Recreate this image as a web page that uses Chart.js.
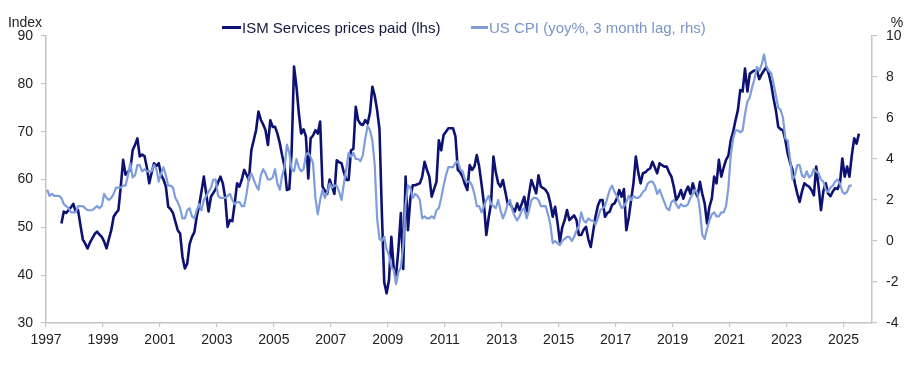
<!DOCTYPE html>
<html>
<head>
<meta charset="utf-8">
<script src="https://cdn.jsdelivr.net/npm/chart.js@4.4.1/dist/chart.umd.min.js"></script>
<style>
  html, body { margin: 0; padding: 0; background: #fff; }
  #wrap { position: relative; width: 918px; height: 369px; }
  #legend { position: absolute; left: 0; top: 0; width: 918px; height: 36px;
            font-family: "Liberation Sans", Arial, sans-serif; font-size: 15px; }
  .item { position: absolute; top: 19px; height: 17px; line-height: 17px;
          display: flex; align-items: center; white-space: nowrap; }
  .swatch { display: inline-block; height: 3px; margin-right: 1px; }
</style>
</head>
<body>
<div id="wrap">
  <canvas id="c" width="918" height="369"></canvas>
  <div id="legend"></div>
</div>
<script>
// ---------------- DATA ----------------
const seriesNames = ["ISM Services prices paid (lhs)", "US CPI (yoy%, 3 month lag, rhs)"];

// ISM Services prices paid index, monthly, starting Jul 1997
const ismStart = [1997, 7];
const ismPricesPaid = [
  50.8, 53.3, 53.0, 53.6, 54.2, 54.9,
  53.3, 53.6, 50.5, 47.5, 46.6, 45.6, 46.8, 47.7, 48.6, 49.1, 48.5, 48.0,
  47.0, 45.6, 47.6, 49.4, 52.2, 53.0, 53.6, 58.5, 64.1, 61.0, 61.6, 62.0,
  66.1, 67.2, 68.6, 64.8, 65.2, 64.9, 62.5, 59.2, 61.4, 63.4, 62.8, 63.4,
  61.0, 60.0, 58.5, 54.3, 53.8, 53.0, 51.2, 49.4, 48.7, 43.8, 41.4, 42.4,
  46.5, 48.0, 49.0, 52.2, 54.5, 57.5, 60.6, 57.1, 53.3, 56.4, 57.2, 58.0,
  59.4, 60.6, 59.2, 56.2, 50.1, 51.5, 51.3, 55.0, 59.2, 58.5, 60.0, 62.0,
  61.0, 59.9, 66.1, 68.2, 70.3, 74.2, 72.5, 71.5, 70.3, 67.2, 72.4, 71.0,
  71.0, 69.6, 67.6, 65.0, 62.7, 57.8, 58.0, 66.0, 83.6, 79.5, 74.0, 69.6,
  70.5, 69.0, 60.2, 68.6, 69.2, 70.3, 69.6, 72.1, 58.5, 57.6, 57.0, 60.0,
  58.5, 57.0, 64.0, 63.6, 63.4, 61.5, 59.9, 59.9, 66.1, 66.4, 75.2, 72.4,
  71.6, 71.4, 72.4, 71.7, 74.0, 79.4, 77.5, 74.5, 70.5, 53.0, 38.5, 36.2,
  39.0, 48.0, 41.4, 40.0, 45.6, 53.0, 41.3, 60.6, 49.4, 56.0, 58.8, 58.8,
  59.0, 59.2, 60.6, 63.7, 62.0, 60.6, 56.4, 58.0, 59.5, 68.2, 66.1, 69.3,
  70.0, 70.7, 70.7, 70.7, 69.0, 62.0, 61.5, 60.6, 59.0, 57.8, 63.0, 62.0,
  62.7, 65.1, 62.7, 59.0, 55.0, 48.4, 52.0, 55.0, 64.8, 61.5, 59.2, 58.5,
  59.9, 57.5, 55.0, 55.0, 54.0, 53.3, 55.0, 53.6, 55.0, 56.4, 53.3, 57.0,
  59.9, 58.5, 57.1, 60.9, 58.5, 58.2, 57.8, 57.0, 55.0, 52.2, 54.3, 51.0,
  47.0, 50.0, 51.5, 53.6, 51.5, 52.0, 52.5, 51.5, 48.4, 48.4, 49.5, 50.1,
  47.5, 45.9, 49.0, 52.2, 54.5, 55.7, 55.7, 52.2, 53.0, 53.3, 54.7, 55.0,
  56.0, 57.8, 56.4, 58.0, 49.4, 52.0, 55.7, 59.2, 64.8, 61.5, 59.2, 61.3,
  61.5, 62.0, 62.3, 63.7, 62.5, 61.3, 63.4, 63.0, 62.7, 62.7, 61.5, 60.6,
  58.5, 55.7, 56.5, 57.8, 56.0, 57.5, 58.5, 57.0, 59.2, 57.5, 56.4, 59.5,
  57.0, 55.0, 50.8, 54.3, 56.0, 60.6, 59.2, 64.1, 60.6, 62.5, 64.1, 65.0,
  68.2, 70.0, 72.4, 74.5, 78.7, 78.4, 83.2, 78.4, 82.1, 82.5, 82.8, 82.8,
  81.0, 82.0, 82.8, 83.5, 82.1, 80.0, 77.0, 74.5, 71.0, 70.5, 70.3, 68.2,
  65.4, 63.5, 62.0, 59.2, 57.1, 55.3, 57.5, 59.2, 58.8, 58.5, 57.8, 56.7,
  62.7, 58.5, 53.6, 57.5, 59.2, 57.1, 56.5, 57.5, 58.2, 58.0, 59.2, 64.4,
  60.6, 62.7, 60.6, 65.1, 68.6, 67.5, 69.6
];

// US CPI yoy %, monthly, starting Apr 1997 (plotted 3 months earlier)
const cpiStart = [1997, 4];
const cpiLagMonths = 3;
const cpiYoy = [
  2.5, 2.2, 2.3, 2.2, 2.2, 2.2, 2.1, 1.8, 1.7,
  1.6, 1.4, 1.4, 1.4, 1.7, 1.7, 1.7, 1.6, 1.5, 1.5, 1.5, 1.6,
  1.7, 1.6, 1.7, 2.3, 2.1, 2.0, 2.1, 2.3, 2.6, 2.6, 2.6, 2.7,
  2.7, 3.2, 3.8, 3.1, 3.2, 3.7, 3.7, 3.4, 3.5, 3.4, 3.4, 3.4,
  3.7, 3.5, 2.9, 3.3, 3.6, 3.2, 2.7, 2.7, 2.6, 2.1, 1.9, 1.6,
  1.1, 1.1, 1.5, 1.6, 1.2, 1.1, 1.5, 1.8, 1.5, 2.0, 2.2, 2.4,
  2.6, 3.0, 3.0, 2.2, 2.1, 2.1, 2.1, 2.2, 2.3, 2.0, 1.8, 1.9,
  1.9, 1.7, 1.7, 2.3, 3.1, 3.3, 3.0, 2.7, 2.5, 3.2, 3.5, 3.3,
  3.0, 3.0, 3.1, 3.5, 2.8, 2.5, 3.2, 3.6, 4.7, 4.3, 3.5, 3.4,
  4.0, 3.6, 3.4, 3.5, 4.2, 4.3, 4.1, 3.8, 2.1, 1.3, 2.0, 2.5,
  2.1, 2.4, 2.8, 2.6, 2.7, 2.7, 2.4, 2.0, 2.8, 3.5, 4.3, 4.1,
  4.3, 4.0, 4.0, 3.9, 4.2, 5.0, 5.6, 5.4, 4.9, 3.7, 1.1, 0.1,
  0.0, 0.2, -0.4, -0.7, -1.3, -1.4, -2.1, -1.5, -1.3, -0.2, 1.8, 2.7,
  2.6, 2.1, 2.3, 2.2, 2.0, 1.1, 1.2, 1.1, 1.1, 1.2, 1.1, 1.5,
  1.6, 2.1, 2.7, 3.2, 3.6, 3.6, 3.6, 3.8, 3.9, 3.5, 3.4, 3.0,
  2.9, 2.9, 2.7, 2.3, 1.7, 1.7, 1.4, 1.7, 2.0, 2.2, 1.8, 1.7,
  1.6, 2.0, 1.5, 1.1, 1.4, 1.8, 2.0, 1.5, 1.2, 1.0, 1.2, 1.5,
  1.6, 1.1, 1.5, 2.0, 2.1, 2.1, 2.0, 1.7, 1.7, 1.7, 1.3, 0.8,
  -0.1, 0.0, -0.1, -0.2, 0.0, 0.1, 0.2, 0.2, 0.0, 0.2, 0.5, 0.7,
  1.4, 1.0, 0.9, 1.1, 1.0, 1.0, 0.8, 1.1, 1.5, 1.6, 1.7, 2.1,
  2.5, 2.7, 2.4, 2.2, 1.9, 1.6, 1.7, 1.9, 2.2, 2.0, 2.2, 2.1,
  2.1, 2.2, 2.4, 2.5, 2.8, 2.9, 2.9, 2.7, 2.3, 2.5, 2.2, 1.9,
  1.6, 1.5, 1.9, 2.0, 1.8, 1.6, 1.8, 1.7, 1.7, 1.8, 2.1, 2.3,
  2.5, 2.3, 1.5, 0.3, 0.1, 0.6, 1.0, 1.3, 1.4, 1.2, 1.2, 1.4,
  1.4, 1.7, 2.6, 4.2, 5.0, 5.4, 5.4, 5.3, 5.4, 6.2, 6.8, 7.0,
  7.5, 7.9, 8.5, 8.3, 8.6, 9.1, 8.5, 8.3, 8.2, 7.7, 7.1, 6.5,
  6.4, 6.0, 5.0, 4.9, 4.0, 3.0, 3.2, 3.7, 3.7, 3.2, 3.1, 3.4,
  3.1, 3.2, 3.5, 3.4, 3.3, 3.0, 2.9, 2.5, 2.4, 2.6, 2.7, 2.9,
  3.0, 2.8, 2.4, 2.3, 2.4, 2.7, 2.7
];

const xTickYears = [1997, 1999, 2001, 2003, 2005, 2007, 2009, 2011, 2013, 2015, 2017, 2019, 2021, 2023, 2025];
const leftTicks = [30, 40, 50, 60, 70, 80, 90];
const rightTicks = [-4, -2, 0, 2, 4, 6, 8, 10];
const leftTitle = "Index";
const rightTitle = "%";

// ---------------- BUILD ----------------
function toPoints(start, values, lag) {
  const base = (start[1] - 1) - lag;
  return values.map((v, k) => ({ x: start[0] + (base + k + 0.5) / 12, y: v }));
}

const ISM_COLOR = "#0d1272";
const CPI_COLOR = "#7f9ddb";
const AXIS_COLOR = "#c4c4c4";
const FONT = '"Liberation Sans", Arial, sans-serif';

const unitTitles = {
  id: "unitTitles",
  afterDraw(chart) {
    const ctx = chart.ctx;
    ctx.save();
    ctx.font = "14px " + FONT;
    ctx.fillStyle = "#222";
    ctx.textAlign = "center";
    ctx.textBaseline = "middle";
    ctx.fillText(leftTitle, 25, 23);
    ctx.fillText(rightTitle, 897, 23);
    ctx.restore();
  }
};

const chart = new Chart(document.getElementById("c"), {
  type: "line",
  data: {
    datasets: [
      { label: seriesNames[0], data: toPoints(ismStart, ismPricesPaid, 0), yAxisID: "yL",
        borderColor: ISM_COLOR, borderWidth: 2.6, pointRadius: 0, tension: 0,
        borderJoinStyle: "round", order: 2 },
      { label: seriesNames[1], data: toPoints(cpiStart, cpiYoy, cpiLagMonths), yAxisID: "yR",
        borderColor: CPI_COLOR, borderWidth: 2.2, pointRadius: 0, tension: 0,
        borderJoinStyle: "round", order: 1 }
    ]
  },
  options: {
    responsive: false,
    animation: false,
    devicePixelRatio: 1,
    layout: { padding: { top: 36, left: 0, right: 0, bottom: 0 } },
    plugins: { legend: { display: false }, tooltip: { enabled: false } },
    scales: {
      x: {
        type: "linear", min: 1997, max: 2026,
        afterBuildTicks: s => { s.ticks = xTickYears.map(v => ({ value: v })); },
        afterFit: s => { s.height = 46; },
        ticks: { callback: v => String(v), font: { family: FONT, size: 14 }, color: "#222",
                 padding: 5, maxRotation: 0, autoSkip: false },
        grid: { drawOnChartArea: false, drawTicks: true, tickLength: 4, color: AXIS_COLOR, lineWidth: 1.2 },
        border: { display: true, color: AXIS_COLOR, width: 1.5 }
      },
      yL: {
        position: "left", min: 30, max: 90,
        afterBuildTicks: s => { s.ticks = leftTicks.map(v => ({ value: v })); },
        afterFit: s => { s.width = 46; },
        ticks: { font: { family: FONT, size: 14 }, color: "#222", padding: 8 },
        grid: { drawOnChartArea: false, drawTicks: true, tickLength: 5, color: AXIS_COLOR, lineWidth: 1.2 },
        border: { display: true, color: AXIS_COLOR, width: 1.5 }
      },
      yR: {
        position: "right", min: -4, max: 10,
        afterBuildTicks: s => { s.ticks = rightTicks.map(v => ({ value: v })); },
        afterFit: s => { s.width = 46; },
        ticks: { font: { family: FONT, size: 14 }, color: "#222", padding: 9 },
        grid: { drawOnChartArea: false, drawTicks: true, tickLength: 5, color: AXIS_COLOR, lineWidth: 1.2 },
        border: { display: true, color: AXIS_COLOR, width: 1.5 }
      }
    }
  },
  plugins: [unitTitles]
});

// HTML legend built from the chart's datasets
const legendPos = [{ left: 222, w: 19, text: "#15173f" }, { left: 471, w: 17, text: "#7b95c9" }];
const legendEl = document.getElementById("legend");
chart.data.datasets.forEach((ds, i) => {
  const item = document.createElement("div");
  item.className = "item";
  item.style.left = legendPos[i].left + "px";
  const sw = document.createElement("span");
  sw.className = "swatch";
  sw.style.width = legendPos[i].w + "px";
  sw.style.background = ds.borderColor;
  const tx = document.createElement("span");
  tx.textContent = ds.label;
  tx.style.color = legendPos[i].text;
  item.appendChild(sw);
  item.appendChild(tx);
  legendEl.appendChild(item);
});
</script>
</body>
</html>
